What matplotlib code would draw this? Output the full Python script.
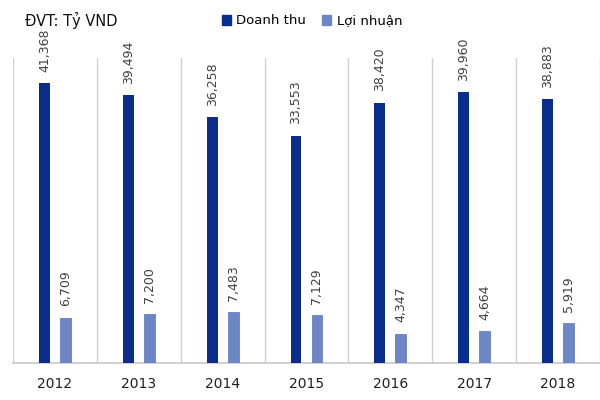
import matplotlib
matplotlib.use("Agg")
import matplotlib.pyplot as plt
import numpy as np
from matplotlib.patches import Patch

years = ["2012", "2013", "2014", "2015", "2016", "2017", "2018"]
doanh_thu = [41368, 39494, 36258, 33553, 38420, 39960, 38883]
loi_nhuan = [6709, 7200, 7483, 7129, 4347, 4664, 5919]
series_names = ["Doanh thu", "Lợi nhuận"]
unit_label = "ĐVT: Tỷ VND"

c_dt = "#0B2D8C"
c_ln = "#6C86C8"

fig = plt.figure(figsize=(6, 4), dpi=100)
ax = fig.add_axes([13/600, 37/400, 1 - 13/600, (363-58)/400])

x = np.arange(len(years))
w = 0.13
off = 0.125
ax.bar(x - off, doanh_thu, width=w, color=c_dt, zorder=3)
ax.bar(x + off, loi_nhuan, width=w, color=c_ln, edgecolor="#5a74b8", linewidth=0.5, zorder=3)

ax.set_xlim(-0.5, len(years) - 0.5)
ax.set_ylim(0, 45000)

for xi, v in zip(x, doanh_thu):
    ax.annotate(f"{v:,}", (xi - off, v), xytext=(0, 8), textcoords="offset points",
                rotation=90, ha="center", va="bottom", fontsize=9, color="#404040")
for xi, v in zip(x, loi_nhuan):
    ax.annotate(f"{v:,}", (xi + off, v), xytext=(0, 8), textcoords="offset points",
                rotation=90, ha="center", va="bottom", fontsize=9, color="#404040")

for b in np.arange(-0.5, len(years), 1.0):
    ax.axvline(b, color="#d0d0d0", linewidth=1, zorder=1)

for s in ["top", "right", "left"]:
    ax.spines[s].set_visible(False)
ax.spines["bottom"].set_color("#c8c8c8")
ax.spines["bottom"].set_linewidth(1.2)
ax.set_yticks([])
ax.set_xticks(x)
ax.set_xticklabels(years, fontsize=10, color="#202020")
ax.tick_params(axis="x", length=0, pad=10)

fig.text(25/600, 1 - 20/400, unit_label, fontsize=10.5, fontweight="normal",
         color="#101010", ha="left", va="center")

handles = [Patch(color=c_dt), Patch(color=c_ln)]
fig.legend(handles, series_names, loc="center", bbox_to_anchor=(312/600, 1 - 21/400),
           ncol=2, frameon=False, fontsize=9.5, handlelength=0.7, handleheight=0.7,
           handletextpad=0.4, columnspacing=1.2)

fig.savefig("out.png", dpi=100)
